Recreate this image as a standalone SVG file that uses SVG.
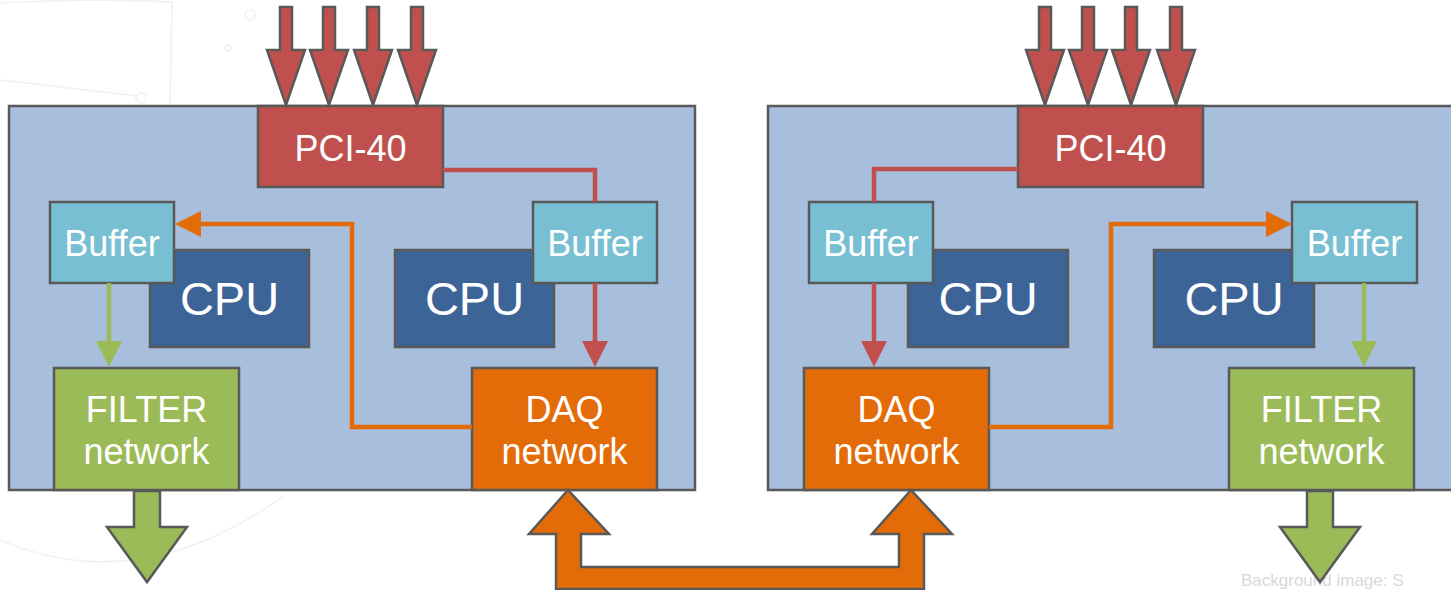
<svg xmlns="http://www.w3.org/2000/svg" xmlns:xlink="http://www.w3.org/1999/xlink" width="1451" height="590" viewBox="0 0 1451 590">
<style>
.panel{fill:#A7BFDD;stroke:#595959;stroke-width:2.5}
.pci{fill:#C0504D;stroke:#595959;stroke-width:2.5}
.buf{fill:#78BFD4;stroke:#595959;stroke-width:2.5}
.cpu{fill:#3D6497;stroke:#595959;stroke-width:2.5}
.daq{fill:#E36C09;stroke:#595959;stroke-width:2.5}
.flt{fill:#9BBB59;stroke:#595959;stroke-width:2.5}
.lbl{font-family:"Liberation Sans",Arial,sans-serif;font-size:36px;fill:#FFFFFF;text-anchor:middle}
.big{font-size:47px}
.red{fill:none;stroke:#C0504D;stroke-width:4.5}
.org{fill:none;stroke:#E36C09;stroke-width:4.5}
.grn{fill:none;stroke:#9BBB59;stroke-width:4.5}
.bg{fill:none;stroke:#F1F1F1;stroke-width:1.5}
</style>
<defs>
<marker id="mRed" markerUnits="userSpaceOnUse" markerWidth="26" markerHeight="26" refX="16" refY="13" orient="auto"><path d="M0,0 L26,13 L0,26 Z" fill="#C0504D"/></marker>
<marker id="mOrg" markerUnits="userSpaceOnUse" markerWidth="26" markerHeight="26" refX="16" refY="13" orient="auto"><path d="M0,0 L26,13 L0,26 Z" fill="#E36C09"/></marker>
<marker id="mGrn" markerUnits="userSpaceOnUse" markerWidth="26" markerHeight="26" refX="16" refY="13" orient="auto"><path d="M0,0 L26,13 L0,26 Z" fill="#9BBB59"/></marker>
<path id="inArrow" d="M-6,7 H6 V50 H19 L0,105 L-19,50 H-6 Z" fill="#C0504D" stroke="#595959" stroke-width="2.5"/>
<path id="outArrow" d="M-13,491 H13 V527 H40 L0,582 L-40,527 H-13 Z" fill="#9BBB59" stroke="#595959" stroke-width="2.5"/>
</defs>
<rect width="1451" height="590" fill="#FFFFFF"/>
<g id="background">
<path class="bg" d="M0,3 Q90,-2 172,2 L170,104"/>
<path class="bg" d="M0,80 L138,96"/>
<circle class="bg" cx="141" cy="98" r="5"/>
<circle class="bg" cx="250" cy="15" r="5"/>
<circle class="bg" cx="228" cy="48" r="3"/>
<path class="bg" d="M0,540 Q140,600 285,495"/>
<text x="1241" y="586" font-family="Liberation Sans,Arial,sans-serif" font-size="17" fill="#D9D9D9">Background image: S</text>
</g>
<g id="panel-left"><rect class="panel" x="9" y="106" width="686" height="384"/></g>
<g id="panel-right"><rect class="panel" x="768" y="106" width="700" height="384"/></g>

<g id="pci-left"><rect class="pci" x="258" y="106" width="185" height="81"/><text class="lbl" x="350.5" y="161">PCI-40</text></g>
<g id="cpu-l1"><rect class="cpu" x="150" y="250" width="159" height="97"/><text class="lbl big" x="229.5" y="315">CPU</text></g>
<g id="buffer-l1"><rect class="buf" x="50" y="202" width="124" height="81"/><text class="lbl" x="112" y="256">Buffer</text></g>
<g id="cpu-l2"><rect class="cpu" x="395" y="250" width="159" height="97"/><text class="lbl big" x="474.5" y="315">CPU</text></g>
<g id="buffer-l2"><rect class="buf" x="533" y="202" width="124" height="81"/><text class="lbl" x="595" y="256">Buffer</text></g>
<g id="filter-left"><rect class="flt" x="54" y="368" width="185" height="122"/><text class="lbl" x="146.5" y="422">FILTER</text><text class="lbl" x="146.5" y="464">network</text></g>
<g id="daq-left"><rect class="daq" x="472" y="368" width="185" height="122"/><text class="lbl" x="564.5" y="422">DAQ</text><text class="lbl" x="564.5" y="464">network</text></g>

<g id="pci-right"><rect class="pci" x="1018" y="106" width="185" height="81"/><text class="lbl" x="1110.5" y="161">PCI-40</text></g>
<g id="cpu-r1"><rect class="cpu" x="908" y="250" width="160" height="97"/><text class="lbl big" x="988" y="315">CPU</text></g>
<g id="buffer-r1"><rect class="buf" x="809" y="202" width="124" height="81"/><text class="lbl" x="871" y="256">Buffer</text></g>
<g id="cpu-r2"><rect class="cpu" x="1154" y="250" width="160" height="97"/><text class="lbl big" x="1234" y="315">CPU</text></g>
<g id="buffer-r2"><rect class="buf" x="1292" y="202" width="125" height="81"/><text class="lbl" x="1354.5" y="256">Buffer</text></g>
<g id="daq-right"><rect class="daq" x="804" y="368" width="185" height="122"/><text class="lbl" x="896.5" y="422">DAQ</text><text class="lbl" x="896.5" y="464">network</text></g>
<g id="filter-right"><rect class="flt" x="1229" y="368" width="185" height="122"/><text class="lbl" x="1321.5" y="422">FILTER</text><text class="lbl" x="1321.5" y="464">network</text></g>

<g id="connectors">
<use xlink:href="#inArrow" x="286"/>
<use xlink:href="#inArrow" x="329"/>
<use xlink:href="#inArrow" x="373"/>
<use xlink:href="#inArrow" x="417"/>
<use xlink:href="#inArrow" x="1045"/>
<use xlink:href="#inArrow" x="1088"/>
<use xlink:href="#inArrow" x="1131"/>
<use xlink:href="#inArrow" x="1176"/>
<use xlink:href="#outArrow" x="147"/>
<use xlink:href="#outArrow" x="1320"/>
<path d="M568,490 L609,534 L581,534 L581,567 L899,567 L899,534 L872,534 L911,490 L952,534 L924,534 L924,589 L556,589 L556,534 L529,534 Z" fill="#E36C09" stroke="#595959" stroke-width="2.5"/>
<polyline class="red" points="443,170 595,170 595,202"/>
<line class="red" x1="595" y1="283" x2="595" y2="357" marker-end="url(#mRed)"/>
<line class="grn" x1="109" y1="283" x2="109" y2="357" marker-end="url(#mGrn)"/>
<polyline class="org" points="472,427 352,427 352,224 185,224" marker-end="url(#mOrg)"/>
<polyline class="red" points="1018,169 874,169 874,202"/>
<line class="red" x1="874" y1="283" x2="874" y2="357" marker-end="url(#mRed)"/>
<polyline class="org" points="989,427 1111,427 1111,224 1282,224" marker-end="url(#mOrg)"/>
<line class="grn" x1="1364" y1="283" x2="1364" y2="357" marker-end="url(#mGrn)"/>
</g>
</svg>
